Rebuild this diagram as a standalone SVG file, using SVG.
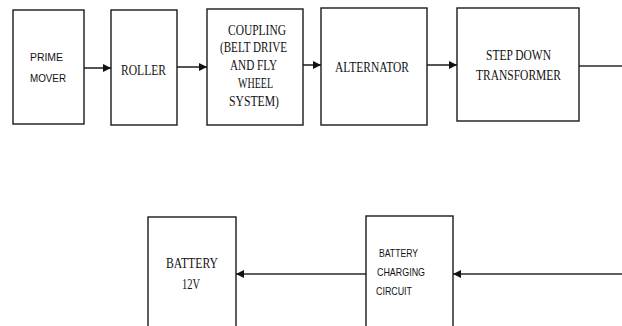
<svg xmlns="http://www.w3.org/2000/svg" width="622" height="326" viewBox="0 0 622 326">
<style>
.box{fill:#fff;stroke:#1a1a1a;stroke-width:1.4}
.ln{fill:none;stroke:#2a2a2a;stroke-width:1.6}
.sf{font-family:"Liberation Serif","Times New Roman",serif;font-size:14px;fill:#111}
.ss{font-family:"Liberation Sans",Arial,sans-serif;font-size:11px;fill:#111}
</style>
<defs>
<marker id="ah" viewBox="0 0 10 10" refX="10" refY="5" markerWidth="8" markerHeight="8" markerUnits="userSpaceOnUse" orient="auto">
<path d="M0,0 L10,5 L0,10 z" fill="#111"/>
</marker>
</defs>
<rect width="622" height="326" fill="#fff"/>
<g id="connectors">
<line class="ln" x1="84" y1="68" x2="111" y2="68" marker-end="url(#ah)"/>
<line class="ln" x1="177" y1="67" x2="207" y2="67" marker-end="url(#ah)"/>
<line class="ln" x1="303" y1="65" x2="321" y2="65" marker-end="url(#ah)"/>
<line class="ln" x1="427" y1="65" x2="457" y2="65" marker-end="url(#ah)"/>
<line class="ln" x1="579" y1="66" x2="622" y2="66"/>
<line class="ln" x1="622" y1="274" x2="453" y2="274" marker-end="url(#ah)"/>
<line class="ln" x1="366" y1="274" x2="236" y2="274" marker-end="url(#ah)"/>
</g>
<g id="prime-mover">
<rect class="box" x="13" y="10" width="71" height="114"/>
<text class="ss" x="30" y="61" textLength="33" lengthAdjust="spacingAndGlyphs">PRIME</text>
<text class="ss" x="30" y="82" textLength="36" lengthAdjust="spacingAndGlyphs">MOVER</text>
</g>
<g id="roller">
<rect class="box" x="111" y="10" width="66" height="115"/>
<text class="sf" x="121" y="75" textLength="45" lengthAdjust="spacingAndGlyphs">ROLLER</text>
</g>
<g id="coupling">
<rect class="box" x="207" y="9" width="96" height="116"/>
<text class="sf" x="228" y="35" textLength="58" lengthAdjust="spacingAndGlyphs">COUPLING</text>
<text class="sf" x="220" y="52" textLength="67" lengthAdjust="spacingAndGlyphs">(BELT DRIVE</text>
<text class="sf" x="230" y="70" textLength="47" lengthAdjust="spacingAndGlyphs">AND FLY</text>
<text class="sf" x="238" y="88" textLength="35" lengthAdjust="spacingAndGlyphs">WHEEL</text>
<text class="sf" x="229" y="106" textLength="50" lengthAdjust="spacingAndGlyphs">SYSTEM)</text>
</g>
<g id="alternator">
<rect class="box" x="321" y="8" width="106" height="117"/>
<text class="sf" x="335" y="72" textLength="74" lengthAdjust="spacingAndGlyphs">ALTERNATOR</text>
</g>
<g id="step-down-transformer">
<rect class="box" x="457" y="8" width="122" height="113"/>
<text class="sf" x="486" y="60" textLength="65" lengthAdjust="spacingAndGlyphs">STEP DOWN</text>
<text class="sf" x="476" y="80" textLength="85" lengthAdjust="spacingAndGlyphs">TRANSFORMER</text>
</g>
<g id="battery">
<rect class="box" x="148" y="217" width="88" height="120"/>
<text class="sf" x="166" y="268" textLength="52" lengthAdjust="spacingAndGlyphs">BATTERY</text>
<text class="sf" x="182" y="289" textLength="18" lengthAdjust="spacingAndGlyphs">12V</text>
</g>
<g id="battery-charging-circuit">
<rect class="box" x="366" y="216" width="87" height="120"/>
<text class="ss" x="379" y="257" font-size="10" textLength="39" lengthAdjust="spacingAndGlyphs">BATTERY</text>
<text class="ss" x="377" y="276" font-size="10" textLength="48" lengthAdjust="spacingAndGlyphs">CHARGING</text>
<text class="ss" x="376" y="295" font-size="10" textLength="36" lengthAdjust="spacingAndGlyphs">CIRCUIT</text>
</g>
</svg>
